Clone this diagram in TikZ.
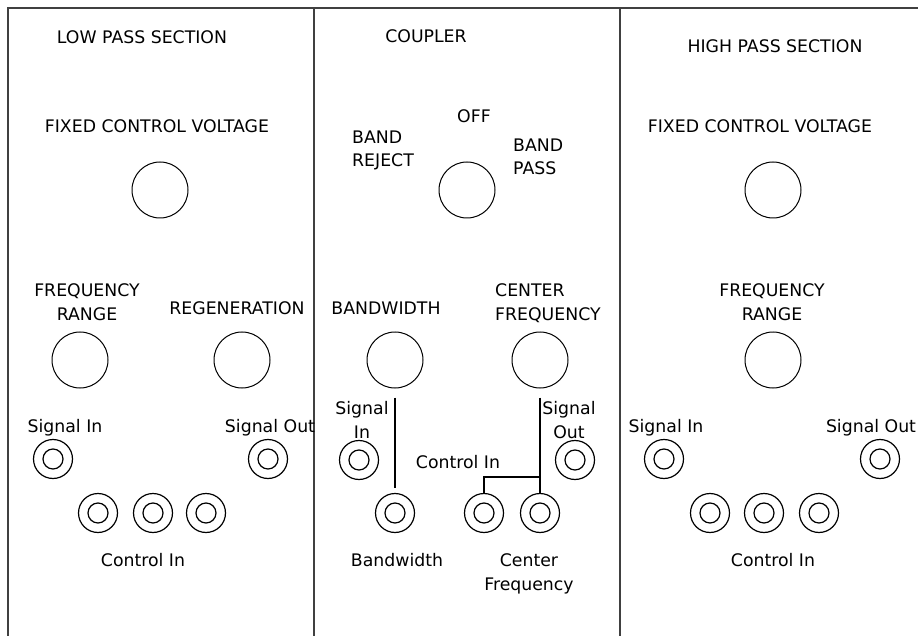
\documentclass[tikz,border=0pt]{standalone}
\usepackage{fontspec}
\setmainfont{DejaVu Sans}
\usepackage{tikz}
\usetikzlibrary{positioning}

\begin{document}
\begin{tikzpicture}[
  x=1pt, y=-1pt,
  font=\fontsize{17.3}{23.5}\selectfont,
  frame/.style={draw=black!75, line width=2pt},
  knob/.style={circle, draw, line width=1pt, minimum size=56pt, inner sep=0pt},
  jack/.style={circle, draw, line width=1.2pt, minimum size=39pt, inner sep=0pt,
               path picture={\draw[line width=1.2pt] (path picture bounding box.center) circle (10pt);}},
  lbl/.style={anchor=base, inner sep=0pt, align=center},
  lbll/.style={anchor=base west, inner sep=0pt, align=left},
  wire/.style={line width=1.3pt}
]
\useasboundingbox (0,0) rectangle (918,636);
% --- panel frame ---
\draw[frame] (8,636) -- (8,8) -- (918,8);
\draw[frame] (314,8) -- (314,636);
\draw[frame] (620,8) -- (620,636);
% --- low pass section ---
\node[lbl] (lpt) at (142,44) {LOW PASS SECTION};
\node[lbl] (lpfcv) at (157,133) {FIXED CONTROL VOLTAGE};
\node[knob] (lpk1) at (160,190) {};
\node[lbl] (lpfr) at (87,320) {FREQUENCY\\RANGE};
\node[lbl] (lpreg) at (237,315) {REGENERATION};
\node[knob] (lpk2) at (80,360) {};
\node[knob] (lpk3) at (242,360) {};
\node[lbl] (lpsi) at (65,432) {Signal In};
\node[lbl] (lpso) at (270,432) {Signal Out};
\node[jack] (lpji) at (53,459) {};
\node[jack] (lpjo) at (268,459) {};
\foreach \x [count=\i] in {98,153,206}
  \node[jack] (lpjc\i) at (\x,513) {};
\node[lbl] (lpci) at (143,566) {Control In};
% --- coupler ---
\node[lbl] (cpt) at (426,43) {COUPLER};
\node[lbl] (cpoff) at (474,123) {OFF};
\node[lbll] (cpbr) at (352,167) {BAND\\REJECT};
\node[lbll] (cpbp) at (513,175) {BAND\\PASS};
\node[knob] (cpk1) at (467,190) {};
\node[lbl] (cpbw) at (386,315) {BANDWIDTH};
\node[lbll] (cpcf) at (495,320) {CENTER\\FREQUENCY};
\node[knob] (bwk) at (395,360) {};
\node[knob] (cfk) at (540,360) {};
\node[lbl] (cpsi) at (362,438) {Signal\\In};
\node[lbl] (cpso) at (569,438) {Signal\\Out};
\node[jack] (cpji) at (359,460) {};
\node[jack] (cpjo) at (575,460) {};
\node[lbl] (cpci) at (458,468) {Control In};
\node[jack] (bwj) at (395,513) {};
\node[jack] (cfj1) at (484,513) {};
\node[jack] (cfj2) at (540,513) {};
\node[lbl] (cpbwl) at (397,566) {Bandwidth};
\node[lbl] (cpcfl) at (529,590) {Center\\Frequency};
\coordinate (cfjoin) at (540,477);
\draw[wire, shorten <=9pt, shorten >=5pt] (bwk) -- (bwj);
\draw[wire, shorten <=9pt] (cfk) -- (cfj2);
\draw[wire] (cfj1) |- (cfjoin);
% --- high pass section ---
\node[lbl] (hpt) at (775,53) {HIGH PASS SECTION};
\node[lbl] (hpfcv) at (760,133) {FIXED CONTROL VOLTAGE};
\node[knob] (hpk1) at (773,190) {};
\node[lbl] (hpfr) at (772,320) {FREQUENCY\\RANGE};
\node[knob] (hpk2) at (773,360) {};
\node[lbl] (hpsi) at (666,432) {Signal In};
\node[lbl] (hpso) at (871,432) {Signal Out};
\node[jack] (hpji) at (664,459) {};
\node[jack] (hpjo) at (880,459) {};
\foreach \x [count=\i] in {710,764,819}
  \node[jack] (hpjc\i) at (\x,513) {};
\node[lbl] (hpci) at (773,566) {Control In};
\end{tikzpicture}
\end{document}
